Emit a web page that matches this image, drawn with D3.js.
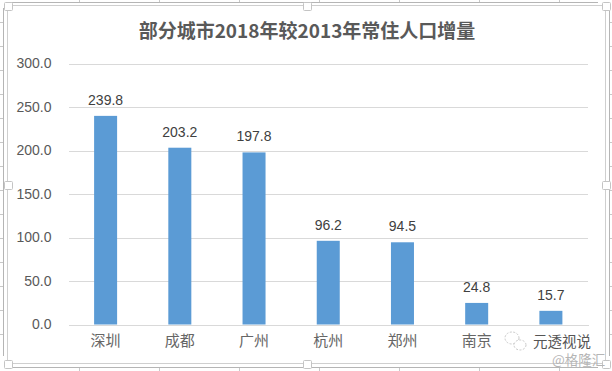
<!DOCTYPE html>
<html><head><meta charset="utf-8">
<script src="https://cdn.jsdelivr.net/npm/d3@7"></script>
<style>
html,body{margin:0;padding:0;background:#fff}
svg{display:block}
text{font-family:"Liberation Sans",sans-serif}
.cjk,.cjk text{font-family:"Noto Sans CJK SC","Noto Sans",sans-serif}
</style></head><body><svg id="c" width="612" height="371"></svg>
<script>
// The seventh category label is illegible in the reference (covered by the watermark), so it stays empty.
const categories = ["深圳","成都","广州","杭州","郑州","南京",""];
const values = [239.8,203.2,197.8,96.2,94.5,24.8,15.7];
const yTicks = [0,50,100,150,200,250,300];
const titleText = "部分城市2018年较2013年常住人口增量";
const watermarkA = "元透视说";
const watermarkB = "@格隆汇";

const svg = d3.select("#c");
const W = 612, H = 371;
const frame = {l:7.5, t:5.5, r:605.5, b:363.5};
const plot = {l:68.5, r:588, t:63.5, b:324.5};

// spreadsheet behind the chart
const bg = svg.append("g").attr("stroke","#c8c8c8").attr("fill","none").attr("shape-rendering","crispEdges");
bg.append("line").attr("x1",10).attr("x2",W-14).attr("y1",2.5).attr("y2",2.5).attr("stroke","#b5b5b5");
bg.append("line").attr("x1",10).attr("x2",W-14).attr("y1",367.5).attr("y2",367.5).attr("stroke","#b5b5b5");
bg.append("line").attr("x1",3.5).attr("x2",3.5).attr("y1",8).attr("y2",356).attr("stroke","#b5b5b5");
bg.append("line").attr("x1",609.5).attr("x2",609.5).attr("y1",8).attr("y2",356).attr("stroke","#b5b5b5");
d3.range(79,W-10,80).forEach(x=>{
  bg.append("line").attr("x1",x+.5).attr("x2",x+.5).attr("y1",0).attr("y2",2);
  bg.append("line").attr("x1",x+.5).attr("x2",x+.5).attr("y1",368).attr("y2",371);
});
d3.range(22,356,24).forEach(y=>{
  bg.append("line").attr("x1",0).attr("x2",3).attr("y1",y+.5).attr("y2",y+.5);
  bg.append("line").attr("x1",610).attr("x2",612).attr("y1",y+.5).attr("y2",y+.5);
});

// chart frame + resize handles
svg.append("rect").attr("x",frame.l).attr("y",frame.t).attr("width",frame.r-frame.l).attr("height",frame.b-frame.t)
  .attr("fill","#fff").attr("stroke","#cfcfcf").attr("stroke-width",1.6).attr("shape-rendering","crispEdges");
const hx=[frame.l,(frame.l+frame.r)/2,frame.r], hy=[frame.t,(frame.t+frame.b)/2,frame.b];
hx.forEach((x,i)=>hy.forEach((y,j)=>{ if(i===1&&j===1) return;
  svg.append("rect").attr("x",Math.round(x-4)+.5).attr("y",Math.round(y-4)+.5).attr("width",8).attr("height",8).attr("rx",1)
    .attr("fill","#fff").attr("stroke","#c4c4c4");
}));

const x = d3.scaleBand().domain(categories).range([plot.l,plot.r]).paddingInner(0).paddingOuter(0);
const y = d3.scaleLinear().domain([0,300]).range([plot.b,plot.t]);
const barW = x.bandwidth()*0.31;

// gridlines + y axis
const gy = svg.append("g").attr("transform",`translate(${plot.l},0)`)
  .call(d3.axisLeft(y).tickValues(yTicks).tickFormat(d3.format(".1f")).tickSize(-(plot.r-plot.l)).tickPadding(17));
gy.select(".domain").remove();
gy.selectAll("line").attr("stroke","#d9d9d9").attr("stroke-width",1).attr("shape-rendering","crispEdges");
gy.selectAll("text").attr("fill","#595959").attr("font-size",14).attr("font-family","Liberation Sans");

// bars
svg.append("g").selectAll("rect").data(values).join("rect")
  .attr("x",(d,i)=>x(categories[i])+x.bandwidth()/2-barW/2)
  .attr("width",barW).attr("y",d=>y(d)).attr("height",d=>y(0)-y(d)).attr("fill","#5b9bd5");

// value labels
svg.append("g").selectAll("text").data(values).join("text")
  .attr("x",(d,i)=>x(categories[i])+x.bandwidth()/2).attr("y",d=>y(d)-11)
  .attr("text-anchor","middle").attr("font-size",14).attr("fill","#404040")
  .text(d=>d3.format(".1f")(d));

// x axis
const gx = svg.append("g").attr("class","cjk").attr("transform",`translate(0,${plot.b})`)
  .call(d3.axisBottom(x).tickSize(0).tickPadding(11));
gx.select(".domain").attr("stroke","#d9d9d9").attr("shape-rendering","crispEdges");
gx.selectAll("text").attr("fill","#666").attr("font-size",15);

// title
svg.append("text").attr("class","cjk").attr("x",307).attr("y",37.5).attr("text-anchor","middle")
  .attr("font-size",19).attr("font-weight",700).attr("fill","#595959")
  .attr("font-family","Noto Sans CJK SC").text(titleText);

// watermark
const wm = svg.append("g").attr("class","cjk");
const ic = wm.append("g").attr("fill","#fff").attr("stroke","#c9c9c9").attr("stroke-dasharray","2 1.5");
ic.append("ellipse").attr("cx",512).attr("cy",338).attr("rx",7).attr("ry",6);
ic.append("ellipse").attr("cx",520).attr("cy",345).attr("rx",6).attr("ry",5);
wm.append("text").attr("x",533).attr("y",347).attr("font-size",14.5).attr("fill","#555")
  .attr("font-family","Noto Sans CJK SC").text(watermarkA);
wm.append("text").attr("x",552).attr("y",365).attr("font-size",13.5).attr("fill","#b5b5b5")
  .attr("font-family","Noto Sans CJK SC").text(watermarkB);
</script></body></html>
